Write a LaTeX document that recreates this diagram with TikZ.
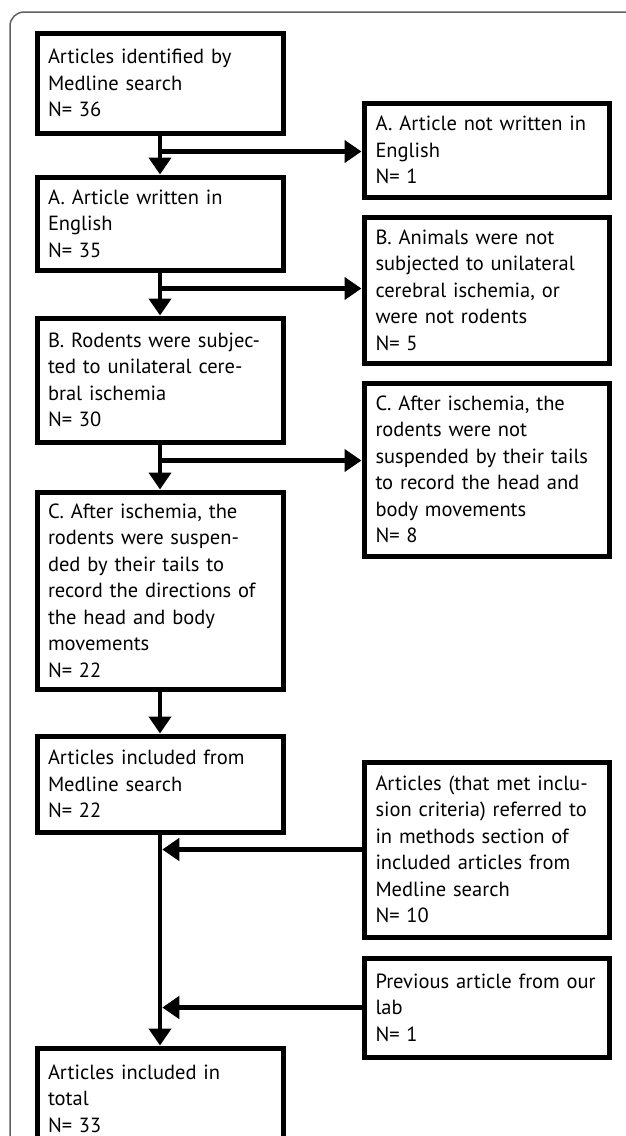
\documentclass[tikz,border=0pt]{standalone}
\usepackage{fontspec}
\setmainfont{PT Sans}
\usetikzlibrary{arrows.meta}
\definecolor{prismaframe}{RGB}{95,95,95}
\begin{document}
\begin{tikzpicture}[x=1pt,y=-1pt,font=\fontsize{20.5}{26.5}\selectfont,
  stagebox/.style={draw,line width=5pt,anchor=north west,align=left,text width=224pt,inner xsep=11pt,inner ysep=0pt},
  sidebox/.style={stagebox,text width=222pt,inner xsep=11.5pt},
  flow/.style={line width=4.5pt,-{Triangle[width=22pt,length=17pt]}}]
\path[use as bounding box] (0,0) rectangle (625,1136);
\draw[prismaframe,line width=1.5pt,rounded corners=14pt] (10,1160) -- (10,12) -- (650,12);
\node[stagebox,minimum height=100pt] (ident) at (34.5,30.5) {Articles identified by\\Medline search\\N= 36};
\node[stagebox,minimum height=93pt] (english) at (34.5,174.5) {A. Article written in\\English\\N= 35};
\node[stagebox,minimum height=124pt] (rodents) at (34.5,315.5) {B. Rodents were subjec-\\ted to unilateral cere-\\bral ischemia\\N= 30};
\node[stagebox,minimum height=197pt] (suspended) at (34.5,489.5) {C. After ischemia, the\\rodents were suspen-\\ded by their tails to\\record the directions of\\the head and body\\movements\\N= 22};
\node[stagebox,minimum height=96pt] (medline) at (34.5,733.5) {Articles included from\\Medline search\\N= 22};
\node[stagebox,minimum height=101pt] (total) at (34.5,1045.5) {Articles included in\\total\\N= 33};
\node[sidebox,minimum height=94pt] (notenglish) at (361.5,100.5) {A. Article not written in\\English\\N= 1};
\node[sidebox,minimum height=146pt] (notanimal) at (361.5,214.5) {B. Animals were not\\subjected to unilateral\\cerebral ischemia, or\\were not rodents\\N= 5};
\node[sidebox,minimum height=173pt] (notsusp) at (361.5,380.5) {C. After ischemia, the\\rodents were not\\suspended by their tails\\to record the head and\\body movements\\N= 8};
\node[sidebox,minimum height=175pt] (methods) at (361.5,759.5) {Articles (that met inclu-\\sion criteria) referred to\\in methods section of\\included articles from\\Medline search\\N= 10};
\node[sidebox,minimum height=99pt] (ourlab) at (361.5,955.5) {Previous article from our\\lab\\N= 1};
\draw[flow] (ident.south) -- (english.north);
\draw[flow] (english.south) -- (rodents.north);
\draw[flow] (rodents.south) -- (suspended.north);
\draw[flow] (suspended.south) -- (medline.north);
\draw[flow] (medline.south) -- (total.north);
\foreach \from/\to in {ident/notenglish,english/notanimal,rodents/notsusp} {
  \path (\from.south) ++(0,16) coordinate (br-\from);
  \draw[flow] (br-\from) -- (br-\from -| \to.west);
}
\foreach \from in {methods,ourlab}
  \draw[flow,shorten >=2.25pt] (\from.west) -- (\from.west -| medline.south);
\end{tikzpicture}
\end{document}
